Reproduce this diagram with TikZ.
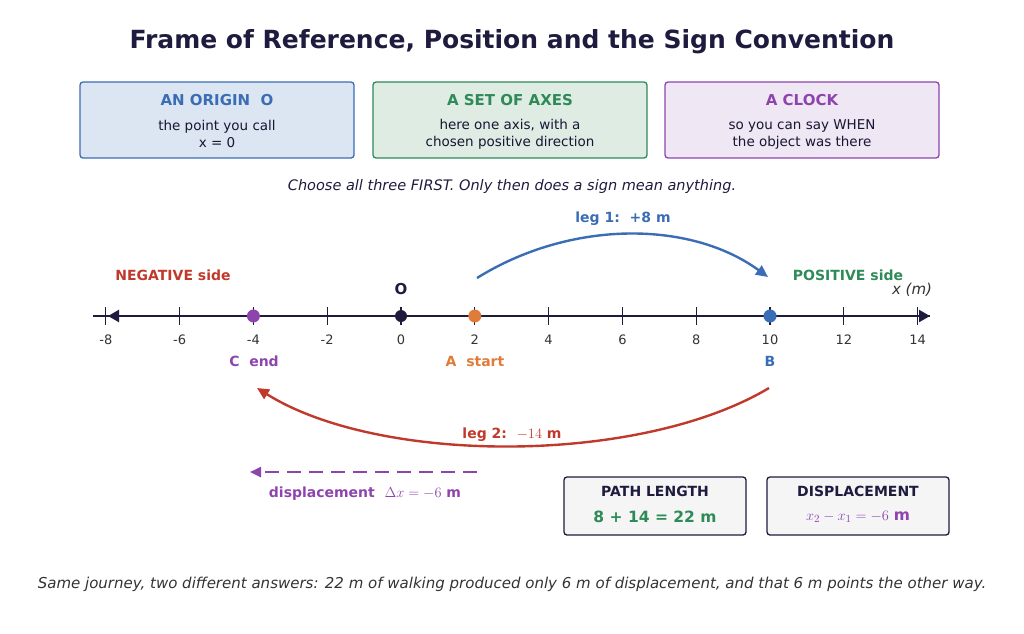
\documentclass[tikz,border=0pt]{standalone}
\usepackage{fontspec}
\setmainfont{DejaVu Sans}
\usetikzlibrary{arrows.meta}
\definecolor{navy}{HTML}{1E1B3E}
\definecolor{cblue}{HTML}{3A6DB5}
\definecolor{cgreen}{HTML}{2E8B57}
\definecolor{cpurp}{HTML}{8E44AD}
\definecolor{cred}{HTML}{C0392B}
\definecolor{corange}{HTML}{E07B39}
\definecolor{tgray}{HTML}{333333}
\begin{document}
\begin{tikzpicture}[x=1pt,y=-1pt,
 topbox/.style={draw,line width=1.3pt,rounded corners=3pt,minimum width=274pt,minimum height=76pt,align=center},
 resbox/.style={draw=navy,fill=gray!8,line width=1.3pt,rounded corners=3pt,minimum height=58pt,align=center},
 tick/.style={navy,line width=1.2pt},
 lab/.style={font=\fontsize{13}{15}\selectfont,text=tgray},
 dot/.style={circle,inner sep=0pt,minimum size=13pt}]
\useasboundingbox (0,0) rectangle (1024,633);
\node[font=\bfseries\fontsize{25}{30}\selectfont,text=navy] (title) at (512,42) {Frame of Reference, Position and the Sign Convention};
\node[topbox,draw=cblue,fill=cblue!18] (b1) at (217,120) {};
\node[topbox,draw=cgreen,fill=cgreen!16] (b2) at (510,120) {};
\node[topbox,draw=cpurp,fill=cpurp!13] (b3) at (802,120) {};
\node[font=\bfseries\fontsize{15}{18}\selectfont,text=cblue] (t1) at (217,100) {AN ORIGIN\ \ O};
\node[font=\fontsize{13.5}{17}\selectfont,align=center,text=navy!80!black] (s1) at (217,134) {the point you call\\x = 0};
\node[font=\bfseries\fontsize{15}{18}\selectfont,text=cgreen] (t2) at (510,100) {A SET OF AXES};
\node[font=\fontsize{13.5}{17}\selectfont,align=center,text=navy!80!black] (s2) at (510,134) {here one axis, with a\\chosen positive direction};
\node[font=\bfseries\fontsize{15}{18}\selectfont,text=cpurp] (t3) at (802,100) {A CLOCK};
\node[font=\fontsize{13.5}{17}\selectfont,align=center,text=navy!80!black] (s3) at (802,134) {so you can say WHEN\\the object was there};
\node[font=\itshape\fontsize{14.5}{17}\selectfont,text=navy] (choose) at (512,186) {Choose all three FIRST. Only then does a sign mean anything.};
% axis
\coordinate (L) at (93,316); \coordinate (R) at (930,316);
\draw[navy,line width=2.2pt] (L) -- (R);
\draw[navy,line width=2.2pt,-{Triangle[length=11pt,width=12pt]}] (400,316) -- (108,316);
\draw[navy,line width=2.2pt,-{Triangle[length=11pt,width=12pt]}] (850,316) -- (930,316);
\foreach \v in {-8,-6,-4,-2,0,2,4,6,8,10,12,14}{
 \draw[tick] ({401+36.9*\v},307) -- ({401+36.9*\v},325);
 \node[lab] at ({401+36.9*\v},340) {\v};}
\node[dot,fill=cpurp] (C) at (253.4,316) {};
\node[dot,fill=navy,minimum size=12pt] (O) at (401,316) {};
\node[dot,fill=corange] (A) at (474.8,316) {};
\node[dot,fill=cblue] (B) at (770,316) {};
\node[font=\bfseries\fontsize{15}{18}\selectfont,text=navy] (Ol) at (401,289) {O};
\node[font=\bfseries\fontsize{14}{17}\selectfont,text=cpurp] (Cl) at (254,361) {C\ \ end};
\node[font=\bfseries\fontsize{14}{17}\selectfont,text=corange] (Al) at (475,361) {A\ \ start};
\node[font=\bfseries\fontsize{14}{17}\selectfont,text=cblue] (Bl) at (770,361) {B};
\node[font=\bfseries\fontsize{14}{17}\selectfont,text=cred] (neg) at (173,275) {NEGATIVE side};
\node[font=\bfseries\fontsize{14}{17}\selectfont,text=cgreen] (pos) at (848,275) {POSITIVE side};
\node[font=\itshape\fontsize{15}{18}\selectfont,text=tgray] (xm) at (912,290) {x (m)};
% legs
\coordinate (l1s) at (477,278); \coordinate (l1e) at (768,277);
\draw[cblue,line width=2.4pt,-{Triangle[length=12pt,width=11pt]}] (l1s) .. controls (570,220) and (690,220) .. (l1e);
\node[font=\bfseries\fontsize{14}{17}\selectfont,text=cblue] (leg1) at (623,219) {leg 1:\ \ +8 m};
\coordinate (l2s) at (769,388); \coordinate (l2e) at (257,388);
\draw[cred,line width=2.4pt,-{Triangle[length=12pt,width=11pt]}] (l2s) .. controls (640,465) and (380,465) .. (l2e);
\node[font=\bfseries\fontsize{14}{17}\selectfont,text=cred] (leg2) at (512,435) {leg 2:\ \ $-14$ m};
\coordinate (ds) at (477,472); \coordinate (de) at (250,472);
\draw[cpurp,line width=2.4pt,dash pattern=on 14pt off 8pt,-{Triangle[length=11pt,width=10pt]}] (ds) -- (de);
\node[font=\bfseries\fontsize{14}{17}\selectfont,text=cpurp] (disp) at (365,494) {displacement\ \ $\Delta x = -6$ m};
\node[resbox,minimum width=182pt] (pl) at (655,506) {};
\node[font=\bfseries\fontsize{14}{17}\selectfont,text=navy] at (655,491) {PATH LENGTH};
\node[font=\bfseries\fontsize{15.5}{18}\selectfont,text=cgreen] at (655,517) {8 + 14 = 22 m};
\node[resbox,minimum width=182pt] (dl) at (858,506) {};
\node[font=\bfseries\fontsize{14}{17}\selectfont,text=navy] at (858,491) {DISPLACEMENT};
\node[font=\fontsize{15.5}{18}\selectfont,text=cpurp] at (858,517) {$x_2 - x_1 = -6$ \textbf{m}};
\node[font=\itshape\fontsize{15}{18}\selectfont,text=tgray] (foot) at (512,584) {Same journey, two different answers: 22 m of walking produced only 6 m of displacement, and that 6 m points the other way.};
\end{tikzpicture}
\end{document}
